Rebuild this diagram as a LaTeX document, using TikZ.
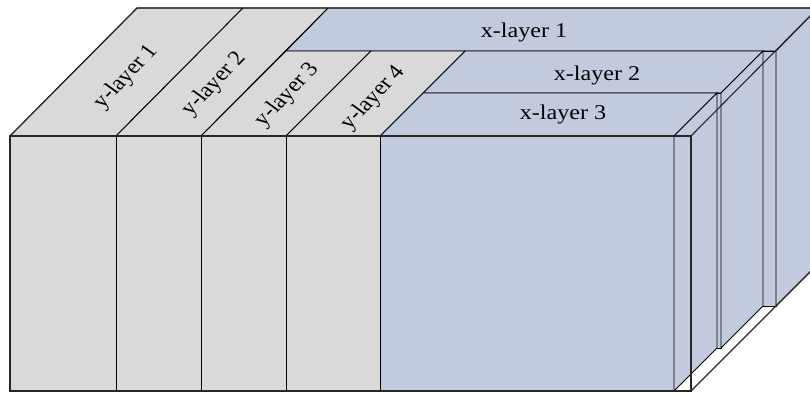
\documentclass[tikz,border=0pt]{standalone}
\usepackage{fontspec}
\setmainfont{Liberation Serif}
\definecolor{ygrey}{HTML}{D9D9D9}
\definecolor{xblue}{HTML}{C1CBDD}
\tikzset{
  face/.style={draw=black, line width=0.9pt, line join=miter},
  yface/.style={face, fill=ygrey},
  xface/.style={face, fill=xblue},
  frame/.style={draw=black!85, line width=1.1pt, line join=miter},
  lbl/.style={font=\fontsize{21}{25}\selectfont, inner sep=0pt},
  ylbl/.style={lbl, xscale=1.15, rotate=50},
  xlbl/.style={lbl, anchor=base, xscale=1.15},
}
\begin{document}
\begin{tikzpicture}[x=1pt, y=-1pt]
\useasboundingbox (0,0) rectangle (810,395);
\clip (0,0) rectangle (810,395);

% x-layer 1 (rear slab)
\path[xface] (286,51) -- (776,51) -- (776,306) -- (286,306) -- cycle;
\path[xface] (286,51) -- (776,51) -- (818,8) -- (328,8) -- cycle;
\path[xface] (776,51) -- (818,8) -- (818,264) -- (776,306) -- cycle;

% x-layer 2 (middle slab)
\path[xface] (423,93) -- (721,93) -- (721,348) -- (423,348) -- cycle;
\path[xface] (423,93) -- (721,93) -- (763,51) -- (465,51) -- cycle;
\path[xface] (721,93) -- (763,51) -- (763,306) -- (721,348) -- cycle;

% x-layer 3 (front slab)
\path[xface] (380,136) -- (674,136) -- (674,391) -- (380,391) -- cycle;
\path[xface] (380,136) -- (674,136) -- (717,93) -- (423,93) -- cycle;
\path[xface] (674,136) -- (717,93) -- (717,348) -- (674,391) -- cycle;

% y-layers: front and top faces
\path[yface] (10,136) rectangle (116,391);
\path[yface] (10,136) -- (116,136) -- (243,8) -- (137,8) -- cycle;
\path[yface] (116,136) rectangle (201,391);
\path[yface] (116,136) -- (201,136) -- (328,8) -- (243,8) -- cycle;
\path[yface] (201,136) rectangle (286,391);
\path[yface] (201,136) -- (286,136) -- (371,51) -- (286,51) -- cycle;
\path[yface] (286,136) rectangle (380,391);
\path[yface] (286,136) -- (380,136) -- (465,51) -- (371,51) -- cycle;

% outer wireframe of the whole block
\path[frame] (10,136) rectangle (691,391);
\path[frame] (10,136) -- (137,8) -- (818,8) -- (691,136);
\path[frame] (691,391) -- (818,264) -- (818,8);

% labels on the y-layer tops
\begin{scope}[shift={(126,77)}]
  \node[ylbl] (ylab1) at (0,0) {y-layer 1};
\end{scope}
\begin{scope}[shift={(214,84)}]
  \node[ylbl] (ylab2) at (0,0) {y-layer 2};
\end{scope}
\begin{scope}[shift={(287,95)}]
  \node[ylbl] (ylab3) at (0,0) {y-layer 3};
\end{scope}
\begin{scope}[shift={(373,98)}]
  \node[ylbl] (ylab4) at (0,0) {y-layer 4};
\end{scope}

% labels on the x-layer tops
\begin{scope}[shift={(524,37.5)}]
  \node[xlbl] (xlab1) at (0,0) {x-layer 1};
\end{scope}
\begin{scope}[shift={(597,81)}]
  \node[xlbl] (xlab2) at (0,0) {x-layer 2};
\end{scope}
\begin{scope}[shift={(563,120)}]
  \node[xlbl] (xlab3) at (0,0) {x-layer 3};
\end{scope}
\end{tikzpicture}
\end{document}
